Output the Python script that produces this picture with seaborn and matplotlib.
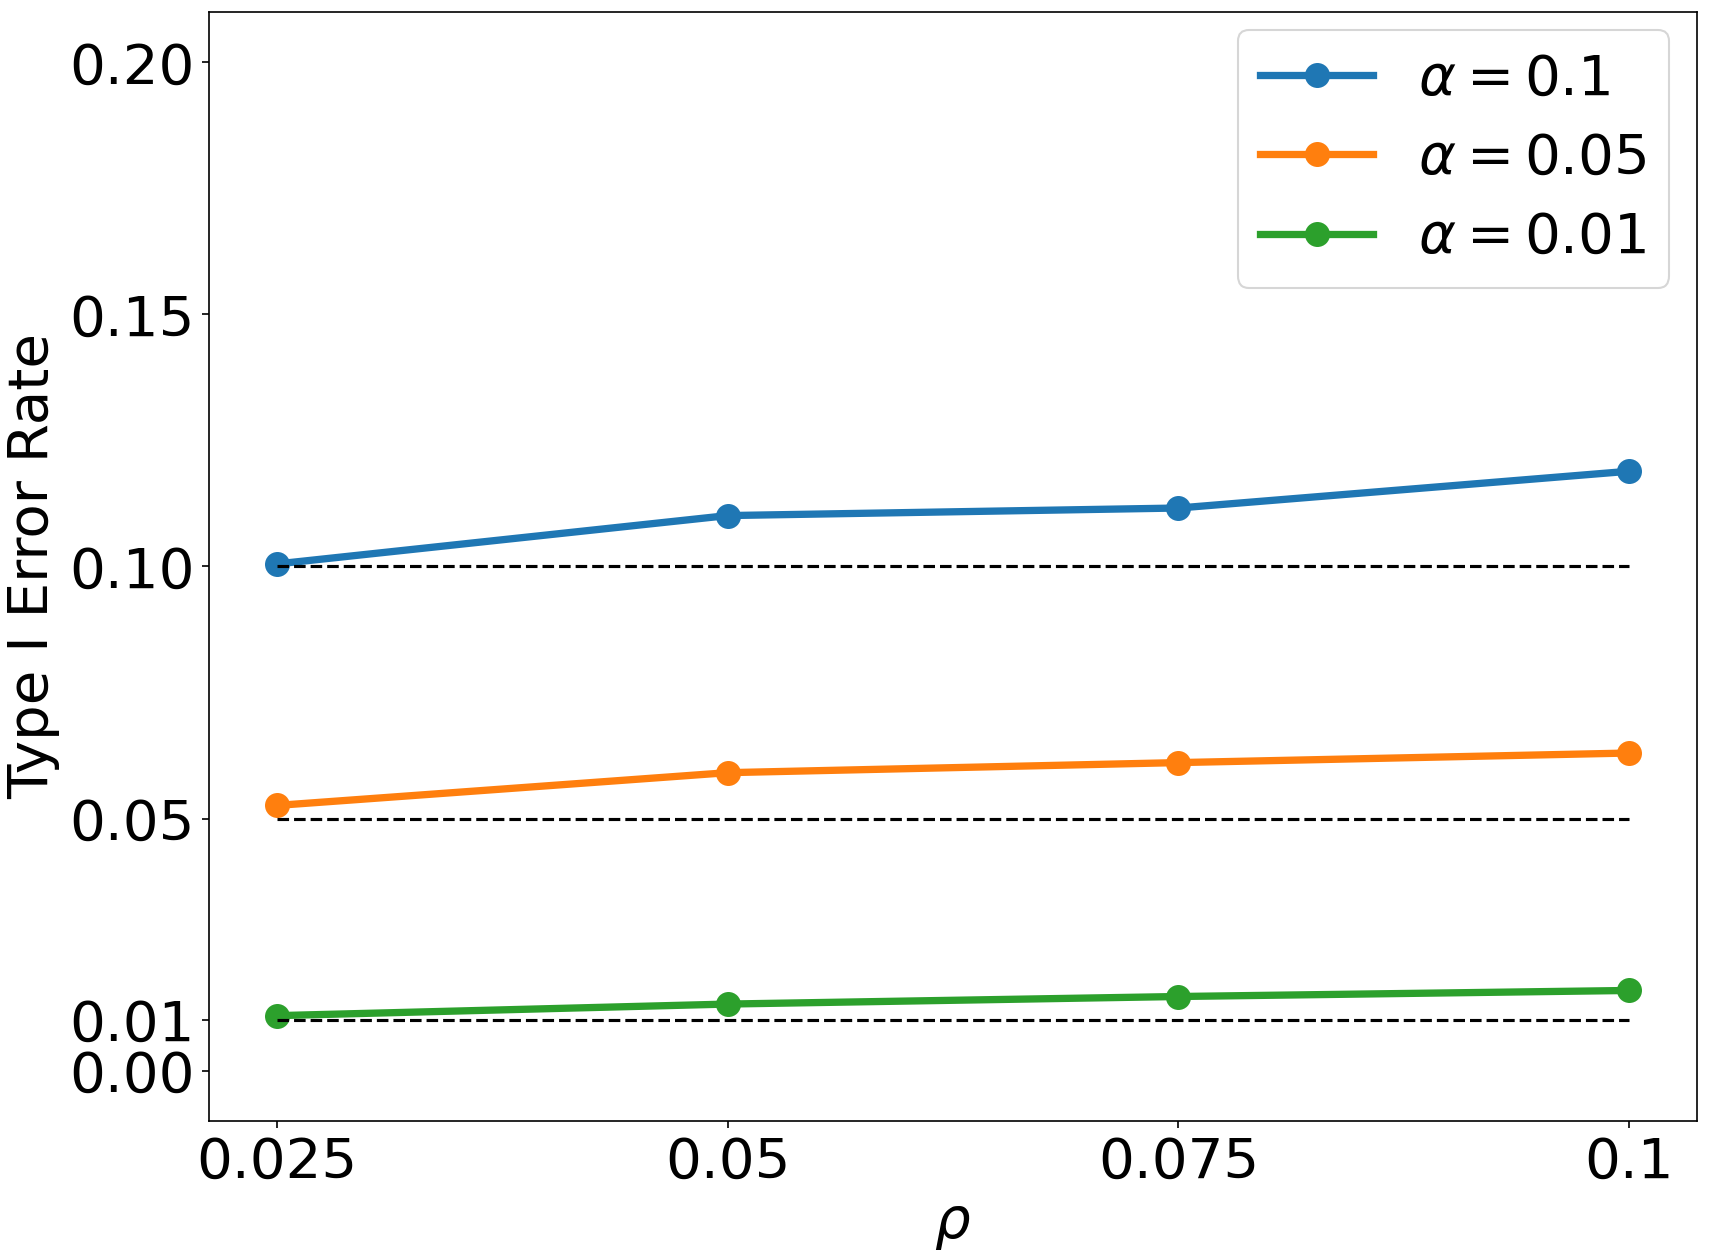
import pandas as pd
import matplotlib
matplotlib.use("Agg")
import matplotlib.pyplot as plt
import seaborn as sns

# values
rho = [0.025, 0.05, 0.075, 0.1]
rho_labels = ["0.025", "0.05", "0.075", "0.1"]
alphas = [0.1, 0.05, 0.01]
rate_01 = [0.1005, 0.1101, 0.1116, 0.1189]
rate_005 = [0.0526, 0.0591, 0.0611, 0.0630]
rate_001 = [0.0109, 0.0132, 0.0147, 0.0159]
y_ticks = [0.0, 0.01, 0.05, 0.10, 0.15, 0.20]

labels = [r"$\alpha = 0.1$", r"$\alpha = 0.05$", r"$\alpha = 0.01$"]
df = pd.DataFrame({
    "rho": rho * 3,
    "rate": rate_01 + rate_005 + rate_001,
    "alpha": [labels[0]] * 4 + [labels[1]] * 4 + [labels[2]] * 4,
})

fs = 27
fig, ax = plt.subplots(figsize=(11.4, 8.4), dpi=150)
fig.subplots_adjust(left=0.1222, right=0.9924, top=0.9905, bottom=0.1103)

sns.lineplot(data=df, x="rho", y="rate", hue="alpha", hue_order=labels,
             palette=["#1f77b4", "#ff7f0e", "#2ca02c"], marker="o",
             markersize=12, markeredgewidth=0, linewidth=3.5, ax=ax)

ax.hlines(alphas, rho[0], rho[-1], colors="k", linestyles="--", linewidth=1.5)

ax.set_ylim(-0.01, 0.21)
ax.set_xticks(rho)
ax.set_xticklabels(rho_labels)
ax.set_yticks(y_ticks)
ax.set_yticklabels([f"{v:.2f}" for v in y_ticks])
ax.tick_params(labelsize=fs)
ax.set_xlabel(r"$\rho$", fontsize=fs)
ax.set_ylabel("Type I Error Rate", fontsize=fs)
ax.legend(loc="upper right", bbox_to_anchor=(1, 1.009), fontsize=fs,
          labelspacing=0.45)

plt.savefig("out.png", dpi=150)
